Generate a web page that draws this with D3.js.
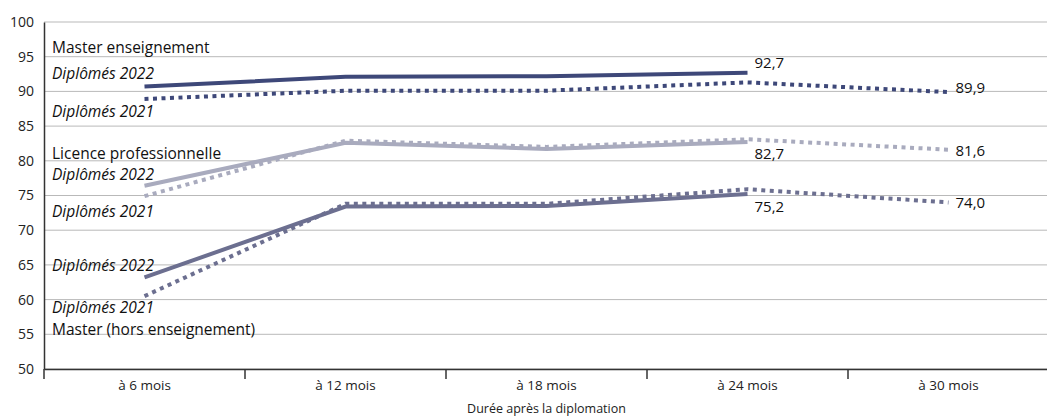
<!DOCTYPE html>
<html>
<head>
<meta charset="utf-8">
<script src="https://cdn.jsdelivr.net/npm/d3@7"></script>
<style>
  body { margin: 0; background: #fff; }
  svg { display: block; font-family: "Open Sans", sans-serif; }
</style>
</head>
<body>
<svg id="chart" width="1047" height="420"></svg>
<script>
// durées après la diplomation
const durees = ["à 6 mois", "à 12 mois", "à 18 mois", "à 24 mois", "à 30 mois"];
const yTicks = [50, 55, 60, 65, 70, 75, 80, 85, 90, 95, 100];

// taux d'emploi (en %)
const masterEns2022 = [90.7, 92.1, 92.2, 92.7];
const masterEns2021 = [88.9, 90.1, 90.1, 91.3, 89.9];
const licencePro2022 = [76.4, 82.6, 81.7, 82.7];
const licencePro2021 = [74.9, 82.9, 82.0, 83.1, 81.6];
const masterHors2022 = [63.2, 73.4, 73.5, 75.2];
const masterHors2021 = [60.5, 73.8, 73.8, 75.9, 74.0];

const series = [
  { values: masterEns2022, color: "#3e4879", dash: null },
  { values: masterEns2021, color: "#3e4879", dash: "4,4.5" },
  { values: licencePro2022, color: "#a9abbe", dash: null },
  { values: licencePro2021, color: "#a9abbe", dash: "4,4.5" },
  { values: masterHors2022, color: "#6c6f90", dash: null },
  { values: masterHors2021, color: "#6c6f90", dash: "4,4.5" }
];

const svg = d3.select("#chart");
const margin = { left: 44, right: -2, top: 22, bottom: 51 };
const width = 1047, height = 420;

const x = d3.scaleBand().domain(durees).range([margin.left, width - margin.right]);
const y = d3.scaleLinear().domain([50, 100]).range([height - margin.bottom, margin.top]);

// grille
svg.append("g")
  .selectAll("line")
  .data(yTicks)
  .join("line")
  .attr("x1", margin.left).attr("x2", width)
  .attr("y1", d => y(d)).attr("y2", d => y(d))
  .attr("stroke", "#b9b9b9").attr("stroke-width", 1);

// axe y
const yAxis = svg.append("g")
  .attr("transform", `translate(${margin.left},0)`)
  .call(d3.axisLeft(y).tickValues(yTicks).tickSize(0).tickPadding(10));
yAxis.select(".domain").attr("stroke", "#333").attr("stroke-width", 1.5);
yAxis.selectAll("text").attr("font-size", 14).attr("fill", "#222").attr("font-family", "Open Sans");

// axe x
const xAxis = svg.append("g")
  .attr("transform", `translate(0,${y(50)})`)
  .call(d3.axisBottom(x).tickSize(0).tickPadding(11));
xAxis.select(".domain").attr("stroke", "#333").attr("stroke-width", 1.5);
xAxis.selectAll("text").attr("font-size", 13.5).attr("fill", "#222").attr("font-family", "Open Sans");
xAxis.selectAll(".sep")
  .data(durees.concat(["fin"]))
  .join("line")
  .attr("class", "sep")
  .attr("x1", (d, i) => margin.left + i * x.bandwidth())
  .attr("x2", (d, i) => margin.left + i * x.bandwidth())
  .attr("y1", 0).attr("y2", 10)
  .attr("stroke", "#333").attr("stroke-width", 1.5);

svg.append("text")
  .attr("x", x("à 18 mois") + x.bandwidth() / 2).attr("y", 413)
  .attr("text-anchor", "middle").attr("font-size", 12.5).attr("fill", "#222")
  .text("Durée après la diplomation");

// courbes
const line = d3.line()
  .x((d, i) => x(durees[i]) + x.bandwidth() / 2)
  .y(d => y(d));

svg.append("g")
  .selectAll("path")
  .data(series)
  .join("path")
  .attr("d", d => line(d.values))
  .attr("fill", "none")
  .attr("stroke", d => d.color)
  .attr("stroke-width", 4)
  .attr("stroke-dasharray", d => d.dash);

// étiquettes des séries
const labels = [
  { text: "Master enseignement", y: 53, italic: false },
  { text: "Diplômés 2022", y: 79, italic: true },
  { text: "Diplômés 2021", y: 117, italic: true },
  { text: "Licence professionnelle", y: 159, italic: false },
  { text: "Diplômés 2022", y: 180, italic: true },
  { text: "Diplômés 2021", y: 217, italic: true },
  { text: "Diplômés 2022", y: 271, italic: true },
  { text: "Diplômés 2021", y: 313, italic: true },
  { text: "Master (hors enseignement)", y: 335, italic: false }
];
svg.append("g")
  .selectAll("text")
  .data(labels)
  .join("text")
  .attr("x", 52).attr("y", d => d.y)
  .attr("font-size", 15.5)
  .attr("font-style", d => d.italic ? "italic" : "normal")
  .attr("fill", "#111")
  .text(d => d.text);

// valeurs finales
const fmt = v => v.toFixed(1).replace(".", ",");
const valueLabels = [
  { s: masterEns2022, dy: -5 },
  { s: masterEns2021, dy: 1 },
  { s: licencePro2022, dy: 17 },
  { s: licencePro2021, dy: 6 },
  { s: masterHors2022, dy: 18 },
  { s: masterHors2021, dy: 6 }
];
svg.append("g")
  .selectAll("text")
  .data(valueLabels)
  .join("text")
  .attr("x", d => x(durees[d.s.length - 1]) + x.bandwidth() / 2 + 7)
  .attr("y", d => y(d.s[d.s.length - 1]) + d.dy)
  .attr("font-size", 15)
  .attr("fill", "#111")
  .text(d => fmt(d.s[d.s.length - 1]));
</script>
</body>
</html>
